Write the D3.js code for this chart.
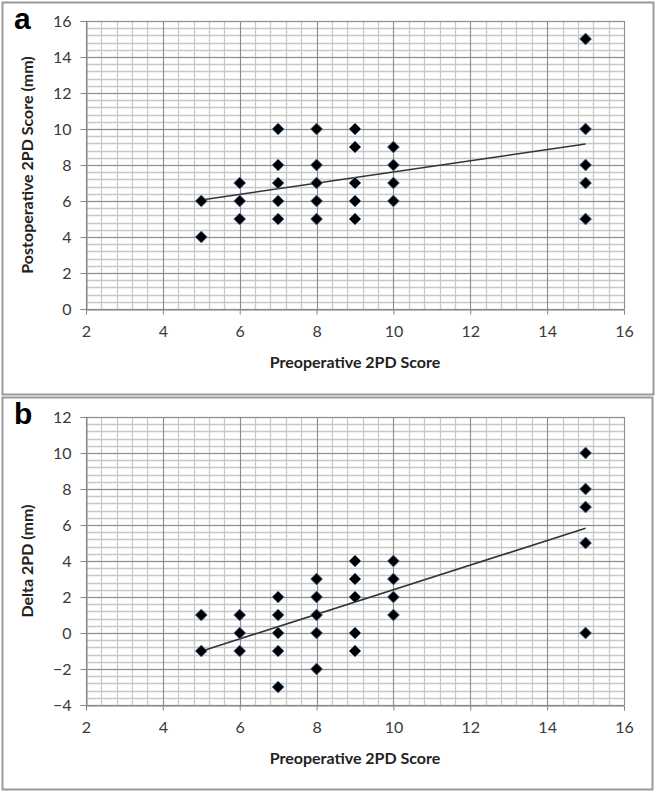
<!DOCTYPE html>
<html><head><meta charset="utf-8">
<script src="https://cdn.jsdelivr.net/npm/d3@7"></script>
<style>body{margin:0;background:#fff}svg{display:block}</style>
</head><body><svg id="c" width="658" height="793"></svg>
<script>
// Panel a: Postoperative 2PD vs Preoperative 2PD
const preA  = [5,5, 6,6,6, 7,7,7,7,7, 8,8,8,8,8, 9,9,9,9,9, 10,10,10,10, 15,15,15,15,15];
const postA = [6,4, 7,6,5, 10,8,7,6,5, 10,8,7,6,5, 10,9,7,6,5, 9,8,7,6, 15,10,8,7,5];
const trendA = [[5,6.06],[15,9.17]];
// Panel b: Delta 2PD vs Preoperative 2PD
const preB   = [5,5, 6,6,6, 7,7,7,7,7, 8,8,8,8,8, 9,9,9,9,9, 10,10,10,10, 15,15,15,15,15];
const deltaB = [1,-1, 1,0,-1, 2,1,0,-1,-3, 3,2,1,0,-2, 4,3,2,0,-1, 4,3,2,1, 10,8,7,5,0];
const trendB = [[5,-1.01],[15,5.82]];
const xTicks = [2,4,6,8,10,12,14,16];
const yTicksA = [0,2,4,6,8,10,12,14,16];
const yTicksB = [-4,-2,0,2,4,6,8,10,12];

const svg = d3.select("#c");
const font = "Lato, 'Open Sans', 'Liberation Sans', sans-serif";

function panel(cfg){
  const g = svg.append("g");
  // panel frame
  g.append("rect").attr("x",cfg.box[0]+0.5).attr("y",cfg.box[1]+0.5)
    .attr("width",cfg.box[2]).attr("height",cfg.box[3])
    .attr("fill","#fff").attr("stroke","#9a9a9a").attr("stroke-width",2);
  const x = d3.scaleLinear().domain([2,16]).range([86,624]);
  const y = d3.scaleLinear().domain(cfg.ydom).range([cfg.yb, cfg.yt]);
  // minor grid
  const minorX = d3.range(2,16.001,0.4);
  const minorY = d3.range(cfg.ydom[0],cfg.ydom[1]+0.001,0.4);
  g.append("g").selectAll("line").data(minorX).join("line")
    .attr("x1",d=>Math.round(x(d))+0.5).attr("x2",d=>Math.round(x(d))+0.5)
    .attr("y1",y(cfg.ydom[1])).attr("y2",y(cfg.ydom[0]))
    .attr("stroke","#c8c8c8").attr("stroke-width",1.3);
  g.append("g").selectAll("line").data(minorY).join("line")
    .attr("y1",d=>Math.round(y(d))+0.5).attr("y2",d=>Math.round(y(d))+0.5)
    .attr("x1",x(2)).attr("x2",x(16))
    .attr("stroke","#c8c8c8").attr("stroke-width",1.3);
  // major grid
  g.append("g").selectAll("line").data(xTicks).join("line")
    .attr("x1",d=>Math.round(x(d))+0.5).attr("x2",d=>Math.round(x(d))+0.5)
    .attr("y1",y(cfg.ydom[1])).attr("y2",y(cfg.ydom[0]))
    .attr("stroke","#8c8c8c").attr("stroke-width",1);
  g.append("g").selectAll("line").data(cfg.yTicks).join("line")
    .attr("y1",d=>Math.round(y(d))+0.5).attr("y2",d=>Math.round(y(d))+0.5)
    .attr("x1",x(2)).attr("x2",x(16))
    .attr("stroke","#8c8c8c").attr("stroke-width",1);
  // axes
  const ax = g.append("g").attr("transform",`translate(0,${Math.round(y(cfg.ydom[0]))+0.5})`)
    .call(d3.axisBottom(x).tickValues(xTicks).tickSize(5).tickPadding(11).tickFormat(d3.format("d")));
  const ay = g.append("g").attr("transform",`translate(${Math.round(x(2))+0.5},0)`)
    .call(d3.axisLeft(y).tickValues(cfg.yTicks).tickSize(6).tickPadding(9).tickFormat(d3.format("d")));
  [ax,ay].forEach(a=>{
    a.selectAll("path,line").attr("stroke","#868686");
    a.selectAll("text").attr("font-family",font).attr("font-size",16).attr("fill","#3a3a3a");
  });
  // trend line
  g.append("path").datum(cfg.trend)
    .attr("d",d3.line().x(d=>x(d[0])).y(d=>y(d[1])))
    .attr("stroke","#333").attr("stroke-width",1.6).attr("fill","none");
  // points
  const diamond = "M0,-6L6,0L0,6L-6,0Z";
  g.append("g").selectAll("path").data(cfg.xs.map((v,i)=>[v,cfg.ys[i]])).join("path")
    .attr("transform",d=>`translate(${x(d[0])},${y(d[1])})`)
    .attr("d",diamond).attr("fill","#000").attr("stroke","#5b86b8").attr("stroke-width",0.8);
  // titles
  g.append("text").attr("x",355).attr("y",y(cfg.ydom[0])+59)
    .attr("text-anchor","middle").attr("font-family",font).attr("font-weight","bold")
    .attr("font-size",16).attr("fill","#222").text("Preoperative 2PD Score");
  g.append("text").attr("transform",`translate(33,${(cfg.yt+cfg.yb)/2}) rotate(-90)`)
    .attr("text-anchor","middle").attr("font-family",font).attr("font-weight","bold")
    .attr("font-size",16).attr("fill","#222").text(cfg.ytitle);
  g.append("text").attr("x",14).attr("y",cfg.box[1]+27)
    .attr("font-family","'Liberation Sans', Arial, sans-serif").attr("font-weight","bold")
    .attr("font-size",30).attr("fill","#000").text(cfg.letter);
}

panel({box:[2,2,651,392], ydom:[0,16], yt:21, yb:309, yTicks:yTicksA,
  xs:preA, ys:postA, trend:trendA, ytitle:"Postoperative 2PD Score (mm)", letter:"a"});
panel({box:[2,397,650,392], ydom:[-4,12], yt:417, yb:705, yTicks:yTicksB,
  xs:preB, ys:deltaB, trend:trendB, ytitle:"Delta 2PD (mm)", letter:"b"});
</script></body></html>
